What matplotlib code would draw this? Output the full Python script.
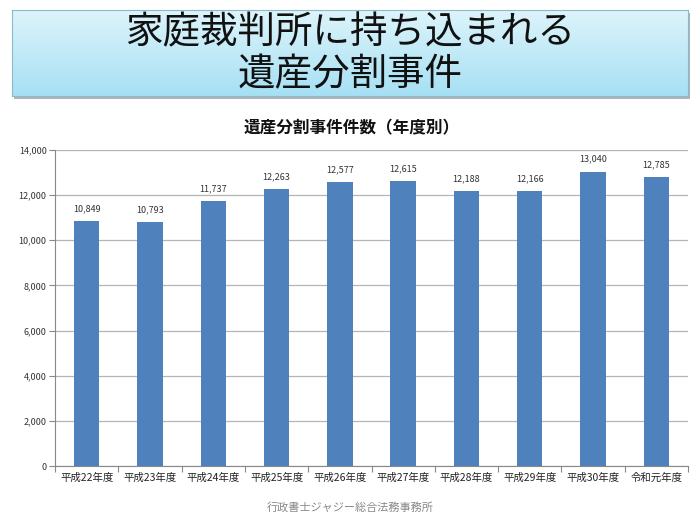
import numpy as np
import matplotlib.pyplot as plt

plt.rcParams['font.family'] = ['Noto Sans CJK JP', 'DejaVu Sans']

years = ['平成22年度', '平成23年度', '平成24年度', '平成25年度', '平成26年度',
         '平成27年度', '平成28年度', '平成29年度', '平成30年度', '令和元年度']
cases = [10849, 10793, 11737, 12263, 12577, 12615, 12188, 12166, 13040, 12785]
y_ticks = [0, 2000, 4000, 6000, 8000, 10000, 12000, 14000]

fig = plt.figure(figsize=(7, 5.25), dpi=100)

# title box with gradient and shadow
W, H = 700, 525
bx0, by0, bx1, by1 = 12, 10, 688, 96
sh = fig.add_axes([(bx0 + 2) / W, 1 - (by1 + 3) / H, (bx1 - bx0) / W, (by1 - by0) / H])
sh.set_facecolor('#aab4ba')
sh.set_xticks([]); sh.set_yticks([])
for s in sh.spines.values():
    s.set_visible(False)
tb = fig.add_axes([bx0 / W, 1 - by1 / H, (bx1 - bx0) / W, (by1 - by0) / H])
grad = np.linspace(0, 1, 100).reshape(-1, 1)
top = np.array([0xdd, 0xf4, 0xfb]) / 255
bot = np.array([0xa6, 0xe0, 0xf4]) / 255
img = top + (bot - top) * grad[:, :, None]
tb.imshow(img, aspect='auto', extent=[0, 1, 0, 1])
tb.set_xlim(0, 1); tb.set_ylim(0, 1)
tb.set_xticks([]); tb.set_yticks([])
for s in tb.spines.values():
    s.set_color('#8fb8c8')
    s.set_linewidth(0.8)
tb.text(0.5, 0.73, '家庭裁判所に持ち込まれる', ha='center', va='center', fontsize=27, color='#111111')
tb.text(0.5, 0.25, '遺産分割事件', ha='center', va='center', fontsize=27, color='#111111')

# bar chart
ax = fig.add_axes([55 / W, 1 - 466 / H, (688 - 55) / W, (466 - 150) / H])
x = np.arange(len(years))
ax.bar(x, cases, width=0.4, color='#4f81bd', zorder=3)
for xi, v in zip(x, cases):
    ax.text(xi, v + 350, f'{v:,}', ha='center', va='bottom', fontsize=6.5, color='#333333')
ax.set_xlim(-0.5, len(years) - 0.5)
ax.set_ylim(0, 14000)
ax.set_yticks(y_ticks)
ax.set_yticklabels([f'{t:,}' for t in y_ticks], fontsize=6.5, color='#333333')
ax.yaxis.grid(True, color='#b4b4b4', linewidth=0.9, zorder=0)
ax.set_xticks(np.arange(-0.5, len(years), 1))
ax.set_xticklabels([])
ax.set_xticks(x, minor=True)
ax.set_xticklabels(years, minor=True, fontsize=7.5, color='#222222')
ax.tick_params(axis='x', which='minor', length=0, pad=5)
ax.tick_params(axis='x', which='major', length=4, color='#888888')
ax.tick_params(axis='y', length=4, color='#888888', pad=2)
for side in ['top', 'right']:
    ax.spines[side].set_visible(False)
ax.spines['left'].set_color('#888888')
ax.spines['bottom'].set_color('#888888')

fig.text(352 / W, 1 - 128 / H, '遺産分割事件件数（年度別）', ha='center', va='center',
         fontsize=12, fontweight='bold', color='#111111')
fig.text(0.5, 1 - 507 / H, '行政書士ジャジー総合法務事務所', ha='center', va='center',
         fontsize=8, color='#888888')

fig.savefig('out.png', dpi=100)
